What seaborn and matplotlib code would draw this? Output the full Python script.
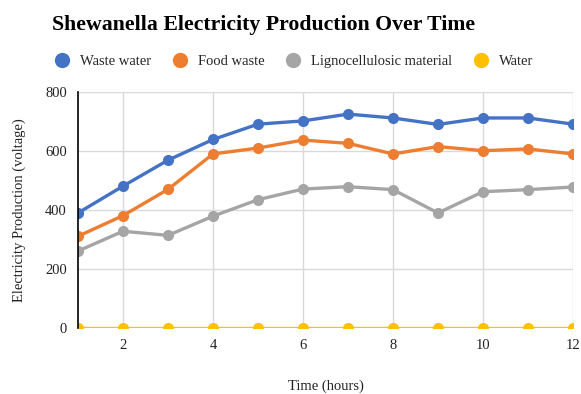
import matplotlib
matplotlib.use("Agg")
import matplotlib.pyplot as plt
from matplotlib.lines import Line2D
import seaborn as sns
import pandas as pd

hours = [1, 2, 3, 4, 5, 6, 7, 8, 9, 10, 11, 12]
waste_water = [390, 481, 569, 639, 691, 702, 725, 712, 690, 712, 712, 691]
food_waste = [311, 381, 470, 590, 610, 637, 626, 590, 615, 601, 607, 590]
lignocellulosic = [261, 328, 314, 379, 435, 471, 479, 469, 390, 462, 469, 478]
water = [0, 0, 0, 0, 0, 0, 0, 0, 0, 0, 0, 0]

series_names = ["Waste water", "Food waste", "Lignocellulosic material", "Water"]
series_values = [waste_water, food_waste, lignocellulosic, water]
colors = ["#4472C4", "#ED7D31", "#A5A5A5", "#FFC000"]

x_ticks = [2, 4, 6, 8, 10, 12]
y_ticks = [0, 200, 400, 600, 800]

rows = []
for name, vals in zip(series_names, series_values):
    for h, v in zip(hours, vals):
        rows.append({"Time": h, "Value": v, "Source": name})
df = pd.DataFrame(rows)

sns.set_theme(style="white")
plt.rcParams["font.family"] = ["Liberation Serif", "DejaVu Serif"]

fig = plt.figure(figsize=(5.81, 3.94), dpi=100)
ax = fig.add_axes([0.1343, 0.1675, 0.8519, 0.599])

sns.lineplot(
    data=df, x="Time", y="Value", hue="Source", hue_order=series_names,
    palette=colors, marker="o", markersize=8, markeredgewidth=0,
    linewidth=2.4, ax=ax, legend=False,
)

ax.set_xlim(1, 12)
ax.set_ylim(0, 800)
ax.set_xticks(x_ticks)
ax.set_yticks(y_ticks)
ax.tick_params(axis="both", labelsize=10.5, colors="#222222", length=0, pad=8)
ax.grid(True, color="#D9D9D9", linewidth=1)
ax.set_axisbelow(True)
for side in ["top", "right", "bottom"]:
    ax.spines[side].set_visible(False)
ax.spines["left"].set_color("black")
ax.spines["left"].set_linewidth(1.2)

ax.set_xlabel("Time (hours)", fontsize=10.5, labelpad=20, color="#222222")
ax.set_ylabel("Electricity Production (voltage)", fontsize=10.5, labelpad=14, color="#222222")

fig.text(0.454, 0.937, "Shewanella Electricity Production Over Time",
         ha="center", va="center", fontsize=15.7, fontweight="bold", color="black")

handles = [Line2D([0], [0], marker="o", color="none", markerfacecolor=c,
                  markeredgewidth=0, markersize=11) for c in colors]
fig.legend(handles, series_names, loc="center", bbox_to_anchor=(0.505, 0.843),
           ncol=4, frameon=False, fontsize=10.5, handletextpad=0.6,
           columnspacing=1.4, handlelength=1.2)

fig.savefig("out.png", dpi=100)
